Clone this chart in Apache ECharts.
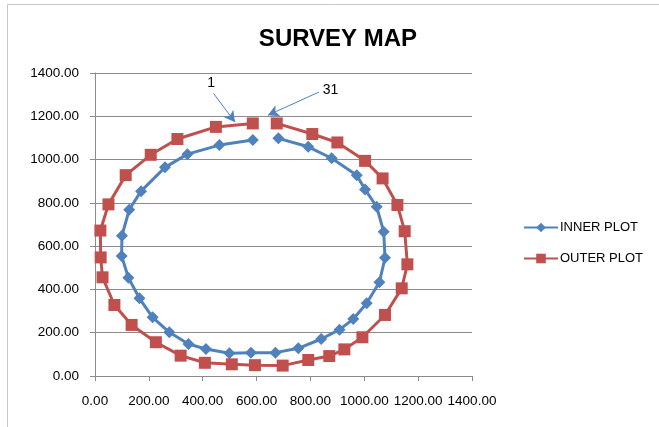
<!DOCTYPE html>
<html>
<head>
<meta charset="utf-8">
<script src="https://cdn.jsdelivr.net/npm/echarts@6/dist/echarts.min.js"></script>
<style>
html,body{margin:0;padding:0;background:#fff;}
#chart{width:659px;height:427px;}
</style>
</head>
<body>
<div id="chart"></div>
<script>
const innerX = [586, 462, 343, 260, 171, 127, 100, 99, 124, 165, 214, 276, 347, 412, 499, 579, 670, 755, 840, 908, 959, 1009, 1056, 1077, 1072, 1046, 1003, 972, 879, 792, 681];
const innerY = [1090, 1067, 1025, 964, 854, 768, 648, 554, 454, 359, 271, 202, 148, 125, 105, 108, 108, 128, 171, 214, 263, 336, 433, 546, 667, 782, 862, 928, 1006, 1059, 1098];
const outerX = [586, 449, 306, 207, 114, 50, 20, 21, 28, 72, 136, 226, 318, 408, 508, 594, 697, 792, 870, 926, 993, 1077, 1139, 1160, 1150, 1123, 1068, 1003, 900, 807, 675];
const outerY = [1167, 1151, 1095, 1022, 928, 793, 672, 548, 456, 328, 236, 156, 94, 61, 54, 50, 48, 74, 92, 123, 179, 282, 405, 516, 669, 790, 913, 994, 1079, 1118, 1167];
const seriesNames = ['INNER PLOT', 'OUTER PLOT'];
const titleText = 'SURVEY MAP';
// annotation arrows: [label, startX, startY, endX, endY] in data units
const arrows = [
  ['1', 440, 1306, 520, 1173],
  ['31', 832, 1312, 642, 1205]
];

const innerData = innerX.map((x, i) => [x, innerY[i]]);
const outerData = outerX.map((x, i) => [x, outerY[i]]);
const FONT = 'Liberation Sans';
const gridColor = '#8c8c8c';

const chart = echarts.init(document.getElementById('chart'), null, {renderer: 'canvas'});
chart.setOption({
  animation: false,
  backgroundColor: '#fff',
  textStyle: {fontFamily: FONT},
  graphic: [{
    type: 'rect',
    shape: {x: 7.5, y: 4.5, width: 700, height: 500},
    style: {fill: 'none', stroke: '#c6c6c6', lineWidth: 1},
    z: -10
  }],
  title: {
    text: titleText,
    left: 333,
    textAlign: 'center',
    top: 22,
    textStyle: {fontFamily: FONT, fontSize: 24, fontWeight: 'bold', color: '#000'}
  },
  legend: {
    orient: 'vertical',
    left: 523,
    top: 221,
    padding: 0,
    itemWidth: 34,
    itemHeight: 12,
    itemGap: 18,
    textStyle: {fontFamily: FONT, fontSize: 13, color: '#000', padding: [0,0,0,-3]},
    data: seriesNames
  },
  grid: {left: 95, right: 187, top: 73, bottom: 51, containLabel: false},
  xAxis: {
    type: 'value',
    min: 0, max: 1400, interval: 200,
    axisLine: {show: true, lineStyle: {color: gridColor, width: 1}},
    axisTick: {show: true, inside: false, length: 5, lineStyle: {color: gridColor}},
    splitLine: {show: false},
    axisLabel: {
      margin: 18, color: '#000', fontFamily: FONT, fontSize: 13.5,
      formatter: v => v.toFixed(2), hideOverlap: false
    }
  },
  yAxis: {
    type: 'value',
    min: 0, max: 1400, interval: 200,
    axisLine: {show: true, lineStyle: {color: gridColor, width: 1}},
    axisTick: {show: true, inside: false, length: 5, lineStyle: {color: gridColor}},
    splitLine: {show: true, lineStyle: {color: gridColor, width: 1}},
    axisLabel: {
      margin: 16, color: '#000', fontFamily: FONT, fontSize: 13.5,
      formatter: v => v.toFixed(2)
    }
  },
  series: [
    {
      name: seriesNames[0],
      type: 'line',
      data: innerData,
      symbol: 'diamond',
      symbolSize: 12,
      showAllSymbol: true,
      lineStyle: {color: '#4F81BD', width: 3},
      itemStyle: {color: '#4F81BD'},
      markLine: {
        silent: true,
        symbol: ['none', 'arrow'],
        symbolSize: [9, 11],
        lineStyle: {color: '#4F81BD', width: 1, type: 'solid'},
        label: {
          show: true, position: 'start', distance: 4,
          color: '#000', fontFamily: FONT, fontSize: 14,
          formatter: p => p.name
        },
        data: arrows.map(a => [
          {name: a[0], coord: [a[1], a[2]]},
          {coord: [a[3], a[4]]}
        ])
      }
    },
    {
      name: seriesNames[1],
      type: 'line',
      data: outerData,
      symbol: 'rect',
      symbolSize: 12,
      showAllSymbol: true,
      lineStyle: {color: '#C0504D', width: 3},
      itemStyle: {color: '#C0504D'}
    }
  ]
});
</script>
</body>
</html>
